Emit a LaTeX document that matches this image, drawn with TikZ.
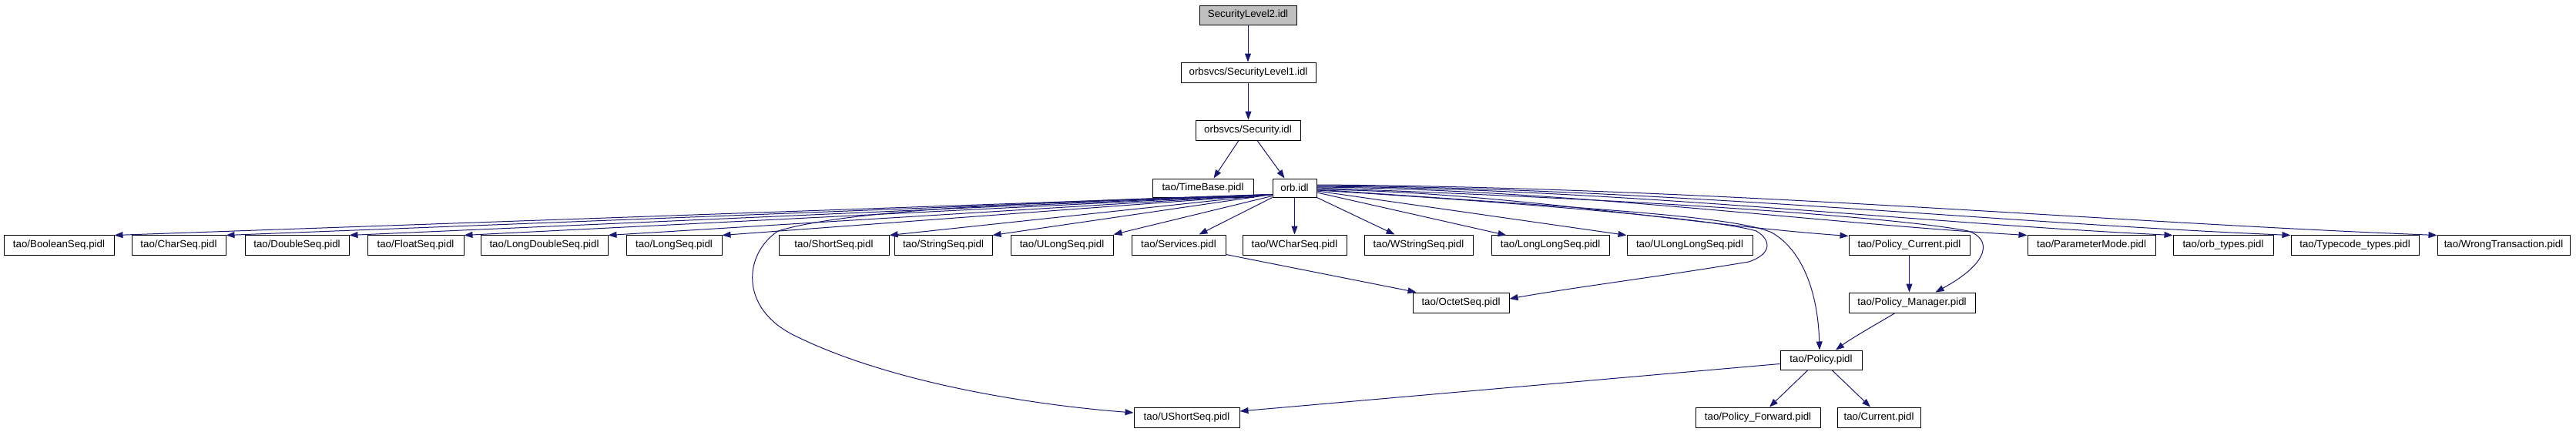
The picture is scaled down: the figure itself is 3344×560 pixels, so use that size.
\documentclass[tikz,border=0pt]{standalone}
\usepackage{fontspec}
\setmainfont{Liberation Sans}
\usetikzlibrary{arrows.meta,calc}
\definecolor{edgec}{HTML}{191970}
\definecolor{rootfill}{HTML}{BFBFBF}
\begin{document}
\begin{tikzpicture}[x=1pt,y=-1pt,
  box/.style={draw=black, line width=1pt, fill=white, inner sep=0pt, minimum height=26pt, font=\fontsize{13.3}{16}\selectfont},
  edge/.style={draw=edgec, line width=1pt, -{Triangle[length=11pt,width=8pt]}}]
\useasboundingbox[fill=white] (0,0) rectangle (3344,560);
% nodes
\node[box, fill=rootfill, minimum width=126pt, minimum height=25pt] (sl2) at (1620,19.5) {SecurityLevel2.idl};
\node[box, minimum width=175pt] (sl1) at (1620.5,94) {orbsvcs/SecurityLevel1.idl};
\node[box, minimum width=136pt] (sec) at (1620,169) {orbsvcs/Security.idl};
\node[box, minimum width=131pt, minimum height=24pt] (timebase) at (1561.5,244) {tao/TimeBase.pidl};
\node[box, minimum width=57pt, minimum height=24pt] (orb) at (1680.5,244) {orb.idl};
% row 4
\node[box, minimum width=143pt] (bool) at (76.5,318) {tao/BooleanSeq.pidl};
\node[box, minimum width=122pt] (char) at (232,318) {tao/CharSeq.pidl};
\node[box, minimum width=135pt] (double) at (385.5,318) {tao/DoubleSeq.pidl};
\node[box, minimum width=125pt] (float) at (539.5,318) {tao/FloatSeq.pidl};
\node[box, minimum width=165pt] (ldouble) at (706.5,318) {tao/LongDoubleSeq.pidl};
\node[box, minimum width=124pt] (long) at (875,318) {tao/LongSeq.pidl};
\node[box, minimum width=143pt] (short) at (1082.5,318) {tao/ShortSeq.pidl};
\node[box, minimum width=127pt] (string) at (1224.5,318) {tao/StringSeq.pidl};
\node[box, minimum width=133pt] (ulong) at (1378.5,318) {tao/ULongSeq.pidl};
\node[box, minimum width=122pt] (services) at (1530,318) {tao/Services.pidl};
\node[box, minimum width=135pt] (wchar) at (1680.5,318) {tao/WCharSeq.pidl};
\node[box, minimum width=141pt] (wstring) at (1841.5,318) {tao/WStringSeq.pidl};
\node[box, minimum width=153pt] (longlong) at (2012.5,318) {tao/LongLongSeq.pidl};
\node[box, minimum width=163pt] (ulonglong) at (2193.5,318) {tao/ULongLongSeq.pidl};
\node[box, minimum width=157pt] (pcurrent) at (2478.5,318) {tao/Policy\_Current.pidl};
\node[box, minimum width=166pt] (pmode) at (2715,318) {tao/ParameterMode.pidl};
\node[box, minimum width=130pt] (orbtypes) at (2886,318) {tao/orb\_types.pidl};
\node[box, minimum width=166pt] (tctypes) at (3057,318) {tao/Typecode\_types.pidl};
\node[box, minimum width=172pt] (wrongtx) at (3250,318) {tao/WrongTransaction.pidl};
% row 5-7
\node[box, minimum width=125pt] (octet) at (1896.5,393) {tao/OctetSeq.pidl};
\node[box, minimum width=164pt] (pman) at (2482,393) {tao/Policy\_Manager.pidl};
\node[box, minimum width=106pt, minimum height=25pt] (policy) at (2364,467.5) {tao/Policy.pidl};
\node[box, minimum width=137pt] (ushort) at (1540.5,542) {tao/UShortSeq.pidl};
\node[box, minimum width=162pt] (pfwd) at (2282,542) {tao/Policy\_Forward.pidl};
\node[box, minimum width=108pt] (current) at (2439,542) {tao/Current.pidl};
% top chain
\draw[edge] (sl2.south) -- (sl2.south |- sl1.north);
\draw[edge] (sl1.south) -- (sl1.south |- sec.north);
\draw[edge] ($(sec.south)+(-12,0)$) -- ($(timebase.north)+(14,0)$);
\draw[edge] ($(sec.south)+(12,0)$) -- ($(orb.north)+(-13,0)$);
% orb to left row-4 nodes
\foreach \t in {bool,char,double,float,ldouble,long,short,string}
  \draw[edge] ($(orb.south west)+(0,-4)$) -- ($(\t.north east)+(0,1)$);
\draw[edge] ($(orb.south west)+(0,-2)$) -- (ulong.north east);
\draw[edge] (orb.south west) -- ($(services.north east)+(-35,0)$);
% orb to right row-4 nodes
\draw[edge] (orb.south) -- (orb.south |- wchar.north);
\draw[edge] (orb.south east) -- ($(wstring.north west)+(40,0)$);
\draw[edge] ($(orb.east)+(0,6)$) -- ($(longlong.north west)+(20,1)$);
\draw[edge] ($(orb.east)+(0,4)$) -- ($(ulonglong.north west)+(0,1)$);
\draw[edge] ($(orb.east)+(0,2)$) .. controls +(242,3) and +(-207,-15) .. ($(pcurrent.north west)+(0,2)$);
\draw[edge] ($(orb.east)+(0,-1)$) .. controls +(323,3) and +(-277,-16) .. ($(pmode.north west)+(0,1)$);
\draw[edge] ($(orb.east)+(0,-2)$) .. controls +(389,3) and +(-334,-16) .. ($(orbtypes.north west)+(0,1)$);
\draw[edge] ($(orb.east)+(0,-3)$) .. controls +(443,3) and +(-380,-16) .. ($(tctypes.north west)+(0,1)$);
\draw[edge] ($(orb.east)+(0,-4)$) .. controls +(509,3) and +(-436,-17) .. ($(wrongtx.north west)+(0,1)$);
% long curves from orb
\draw[edge] ($(orb.south west)+(0,-4)$) .. controls (1350,262) and (1100,272) .. (1010,300)
  .. controls (965,330) and (960,400) .. (1030,435)
  .. controls (1150,495) and (1330,525) .. ($(ushort.west)+(0,-6)$);
\draw[edge] ($(orb.east)+(0,3)$) .. controls (2000,265) and (2230,285) .. (2280,300)
  .. controls (2300,312) and (2300,330) .. (2270,340)
  .. controls (2150,360) and (2050,372) .. ($(octet.east)+(0,-5)$);
\draw[edge] ($(orb.east)+(0,2)$) .. controls (2050,270) and (2250,280) .. (2300,302)
  .. controls (2340,325) and (2360,380) .. ($(policy.north)+(-2,0)$);
\draw[edge] (orb.east) .. controls (2200,262) and (2480,285) .. (2555,300)
  .. controls (2585,310) and (2585,340) .. ($(pman.north east)+(-52,0)$);
% lower edges
\draw[edge] ($(services.south east)+(0,-1)$) -- ($(octet.north west)+(5,0)$);
\draw[edge] (pcurrent.south) -- (pcurrent.south |- pman.north);
\draw[edge] ($(pman.south)+(-22,0)$) .. controls +(-20,12) and +(20,-15) .. ($(policy.north)+(19,0)$);
\draw[edge] ($(policy.west)+(0,5)$) -- ($(ushort.east)+(0,-8)$);
\draw[edge] ($(policy.south)+(-17,0)$) -- ($(pfwd.north)+(15,0)$);
\draw[edge] ($(policy.south)+(14,0)$) -- ($(current.north)+(-11,0)$);
\end{tikzpicture}
\end{document}
